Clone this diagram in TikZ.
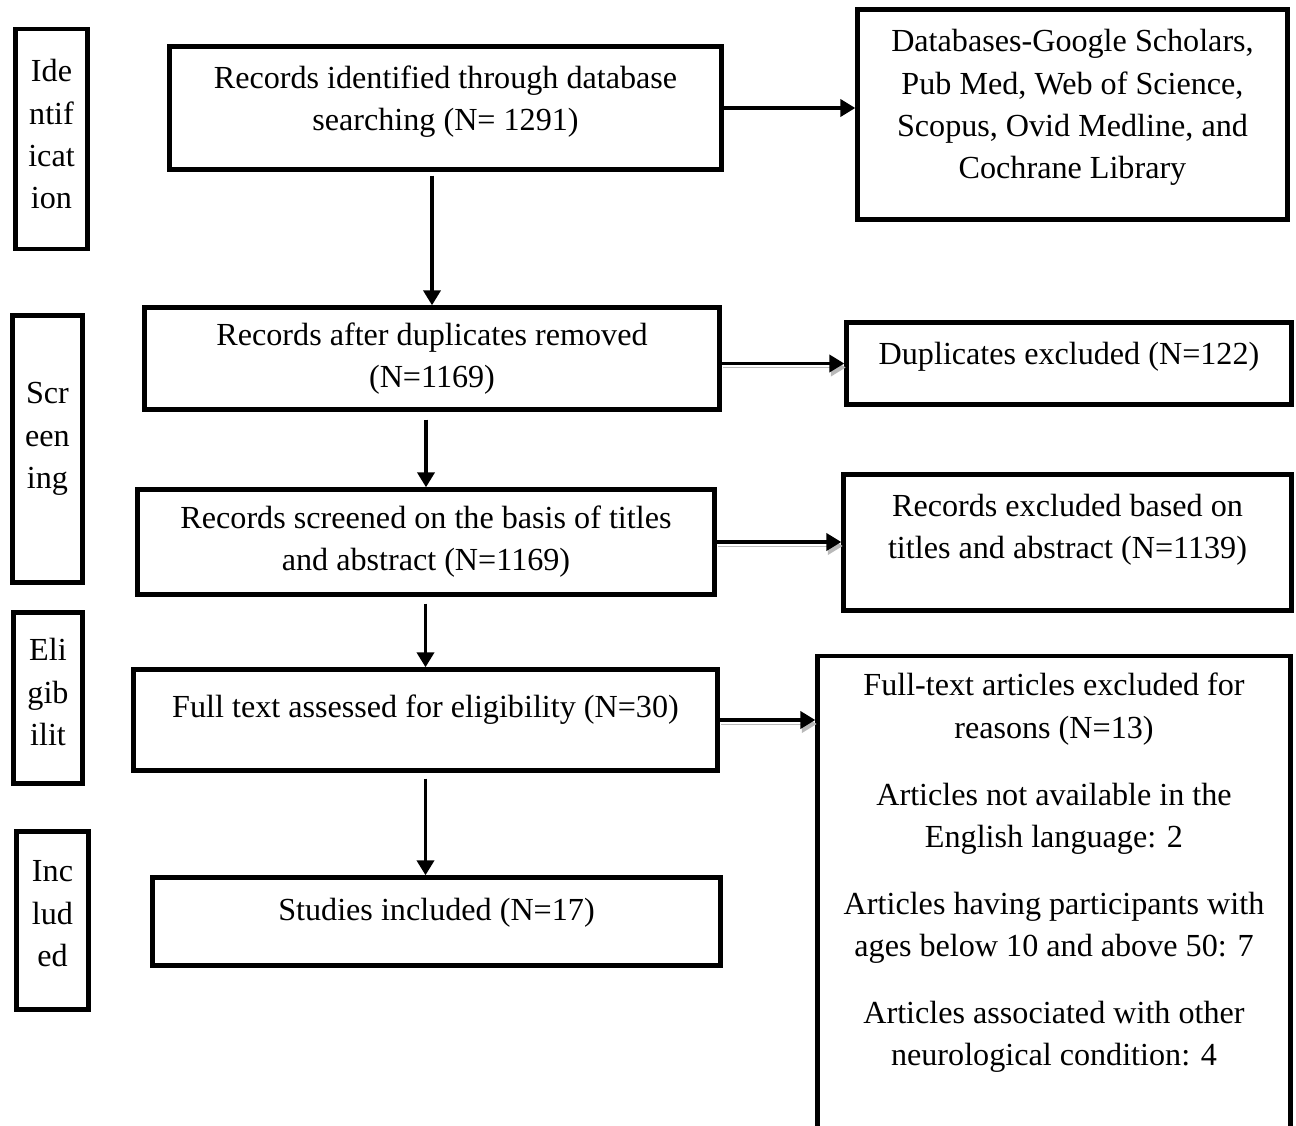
\documentclass[tikz,border=0pt]{standalone}
\usepackage{fontspec}
\setmainfont{Liberation Serif}
\usetikzlibrary{arrows.meta}
\tikzstyle{stage} = [draw, line width=2.5pt, align=center, inner sep=0pt, font=\fontsize{18.3}{24}\selectfont]
\tikzstyle{box} = [draw, line width=2.5pt, align=center, inner sep=0pt, font=\fontsize{18.3}{24}\selectfont]
\tikzstyle{arr} = [line width=2.2pt, -{Triangle[length=0.3cm, width=0.34cm]}]
\tikzstyle{arrs} = [arr, preaction={draw, gray!55, transform canvas={shift={(0.03cm,-0.08cm)}}}]

\begin{document}
\begin{tikzpicture}[x=0.02cm, y=-0.02cm]
    \useasboundingbox (0,0) rectangle (1296,1126);
    % stage labels
    \draw (51.5,139) node[stage, minimum width=1.44cm, minimum height=4.4cm, text depth=0.2cm] (idn) {Ide\\ntif\\icat\\ion};
    \draw (47.5,449) node[stage, minimum width=1.4cm, minimum height=5.34cm, text depth=0.54cm] (scrn) {Scr\\een\\ing};
    \draw (48,698) node[stage, minimum width=1.38cm, minimum height=3.42cm, text depth=0.24cm] (elg) {Eli\\gib\\ilit};
    \draw (52.5,920.5) node[stage, minimum width=1.44cm, minimum height=3.56cm, text depth=0.28cm] (inc) {Inc\\lud\\ed};
    % main column
    \draw (445.5,108) node[box, minimum width=11.04cm, minimum height=2.46cm, text depth=0.4cm] (found) {Records identified through database\\searching (N= 1291)};
    \draw (432,358.5) node[box, minimum width=11.5cm, minimum height=2.04cm] (dedup) {Records after duplicates removed\\(N=1169)};
    \draw (426,542) node[box, minimum width=11.54cm, minimum height=2.1cm] (screened) {Records screened on the basis of titles\\and abstract (N=1169)};
    \draw (425.5,720) node[box, minimum width=11.68cm, minimum height=2.02cm, text depth=0.55cm] (assessed) {Full text assessed for eligibility (N=30)};
    \draw (436.5,921.5) node[box, minimum width=11.36cm, minimum height=1.76cm, text depth=0.48cm] (included) {Studies included (N=17)};
    % side boxes
    \draw (1072.5,114.5) node[box, minimum width=8.6cm, minimum height=4.2cm, text depth=0.42cm] (dbs) {Databases-Google Scholars,\\Pub Med, Web of Science,\\Scopus, Ovid Medline, and\\Cochrane Library};
    \draw (1069,363.5) node[box, minimum width=8.9cm, minimum height=1.64cm, text depth=0.4cm] (dupl) {Duplicates excluded (N=122)};
    \draw (1067.5,542.5) node[box, minimum width=8.96cm, minimum height=2.72cm, text depth=0.64cm] (excl) {Records excluded based on\\titles and abstract (N=1139)};
    \draw (1054,654) node[box, anchor=north, minimum width=9.46cm, inner ysep=0.34cm, text depth=7cm] (ftex) {Full-text articles excluded for\\reasons (N=13)\\[0.5cm]Articles not available in the\\English language: 2\\[0.5cm]Articles having participants with\\ages below 10 and above 50: 7\\[0.5cm]Articles associated with other\\neurological condition: 4};
    % arrows
    \draw [arr] ([yshift=-0.08cm]dedup.north |- found.south) -- (dedup.north);
    \draw [arr] ([yshift=-0.16cm]screened.north |- dedup.south) -- (screened.north);
    \draw [arr] ([yshift=-0.14cm]assessed.north |- screened.south) -- (assessed.north);
    \draw [arr] ([yshift=-0.12cm]assessed.south) -- (assessed.south |- included.north);
    \draw [arr] (found.east) -- (found.east -| dbs.west);
    \draw [arrs] (dedup.east |- dupl.west) -- (dupl.west);
    \draw [arrs] (screened.east) -- (screened.east -| excl.west);
    \draw [arrs] (assessed.east) -- (assessed.east -| ftex.west);
\end{tikzpicture}
\end{document}
